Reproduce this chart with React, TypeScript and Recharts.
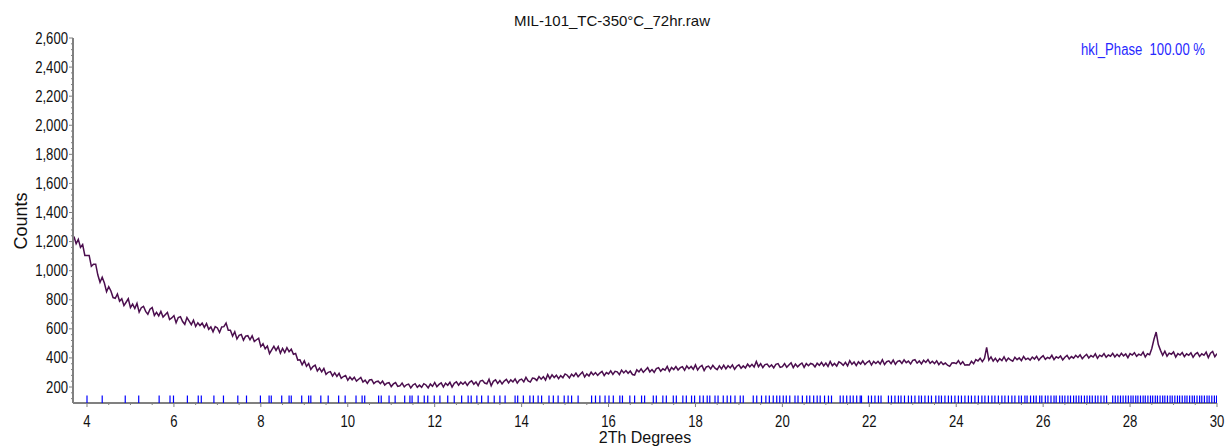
import { ComposedChart, Line, Scatter, XAxis, YAxis } from 'recharts';

// Scan settings: 2-theta start and step (degrees)
const START_ANGLE = 3.7;
const STEP = 0.05;

// Measured counts, one row per degree of 2-theta starting at 3.70
const counts = [
  1235, 1185, 1215, 1160, 1180, 1105, 1105, 1105, 1030, 1045, 1045, 970, 920, 955, 915, 855, 890, 860, 815, 810,
  840, 790, 807, 760, 783, 807, 746, 770, 740, 775, 715, 745, 755, 720, 700, 735, 746, 692, 713, 689,
  720, 681, 697, 713, 664, 675, 691, 642, 678, 684, 650, 631, 677, 653, 629, 660, 616, 642, 623, 639,
  610, 636, 597, 613, 579, 615, 606, 575, 613, 615, 640, 590, 590, 550, 580, 530, 555, 561, 522, 550,
  553, 525, 552, 513, 525, 535, 478, 498, 463, 482, 430, 455, 480, 452, 478, 433, 465, 437, 470, 443,
  460, 425, 430, 385, 387, 353, 380, 342, 361, 320, 340, 350, 310, 330, 304, 328, 287, 301, 306, 276,
  297, 273, 294, 260, 272, 279, 246, 268, 250, 267, 240, 253, 266, 234, 247, 225, 248, 251, 224, 237,
  240, 223, 241, 214, 227, 230, 203, 221, 230, 204, 208, 227, 201, 215, 220, 194, 214, 223, 198, 213,
  198, 223, 214, 194, 220, 205, 231, 202, 218, 229, 200, 226, 212, 233, 199, 225, 236, 212, 233, 219,
  235, 211, 232, 243, 219, 235, 210, 241, 246, 227, 222, 253, 208, 239, 249, 225, 245, 221, 241, 252,
  228, 249, 235, 256, 227, 248, 254, 235, 266, 242, 234, 261, 258, 245, 272, 254, 271, 248, 285, 257,
  284, 265, 281, 257, 278, 264, 290, 281, 262, 288, 274, 295, 271, 287, 303, 269, 290, 276, 302, 283,
  299, 280, 296, 307, 278, 299, 290, 311, 287, 308, 304, 285, 316, 297, 313, 294, 310, 286, 282, 318,
  304, 325, 301, 317, 333, 304, 320, 301, 327, 333, 309, 325, 316, 342, 308, 334, 320, 341, 317, 333,
  339, 315, 345, 326, 341, 322, 352, 317, 338, 348, 313, 338, 344, 324, 349, 329, 319, 345, 325, 350,
  325, 346, 331, 352, 322, 343, 353, 329, 345, 331, 357, 339, 356, 338, 375, 340, 360, 334, 354, 358,
  338, 352, 332, 356, 361, 335, 340, 361, 336, 352, 367, 333, 358, 339, 354, 365, 335, 361, 346, 362,
  357, 338, 363, 349, 369, 345, 365, 341, 376, 347, 362, 343, 373, 364, 349, 370, 345, 381, 356, 372,
  347, 373, 358, 379, 354, 370, 380, 351, 376, 362, 377, 358, 388, 354, 374, 380, 360, 385, 356, 376,
  381, 362, 387, 367, 378, 358, 383, 388, 364, 379, 359, 384, 369, 389, 363, 377, 361, 380, 354, 373,
  355, 365, 350, 342, 365, 367, 361, 381, 356, 374, 350, 353, 351, 377, 360, 388, 379, 398, 375, 397,
  472, 385, 407, 378, 398, 374, 395, 382, 408, 379, 399, 386, 377, 405, 388, 400, 381, 410, 389, 398,
  385, 406, 392, 411, 384, 402, 415, 390, 404, 396, 418, 388, 408, 399, 413, 386, 405, 417, 392, 409,
  398, 418, 403, 421, 395, 412, 425, 400, 416, 406, 428, 397, 419, 410, 430, 404, 420, 412, 432, 407,
  425, 409, 432, 414, 427, 402, 430, 420, 436, 411, 426, 418, 440, 406, 429, 422, 465, 528, 578, 492,
  452, 418, 446, 412, 433, 425, 441, 406, 430, 420, 437, 409, 428, 418, 435, 404, 426, 436, 410, 428,
  418, 440, 402, 433, 445, 408, 430,
];

// Reflection positions of the reference phase (degrees 2-theta)
const hklPositions = [
  4.0, 4.35, 4.88, 5.19, 5.66, 5.91, 5.99, 6.31, 6.56, 6.63, 6.92, 7.14, 7.47, 7.67, 7.99, 8.19, 8.24,
  8.48, 8.65, 8.7, 8.94, 9.1, 9.15, 9.38, 9.55, 9.79, 9.94, 10.19, 10.33, 10.39, 10.71, 10.77, 10.95,
  11.09, 11.31, 11.43, 11.48, 11.62, 11.76, 11.84, 11.99, 12.12, 12.3, 12.45, 12.62, 12.77, 12.84,
  12.97, 13.08, 13.23, 13.37, 13.5, 13.62, 13.85, 13.91, 14.04, 14.19, 14.27, 14.38, 14.46, 14.63,
  14.73, 14.84, 14.98, 15.07, 15.15, 15.3, 15.61, 15.7, 15.8, 15.92, 16.01, 16.11, 16.26, 16.32, 16.49,
  16.6, 16.76, 16.83, 17.03, 17.1, 17.25, 17.33, 17.49, 17.56, 17.71, 17.79, 17.91, 17.98, 18.1, 18.18,
  18.27, 18.33, 18.45, 18.52, 18.64, 18.73, 18.81, 18.91, 19.03, 19.1, 19.33, 19.41, 19.52, 19.62,
  19.7, 19.79, 19.87, 19.94, 20.02, 20.09, 20.17, 20.29, 20.36, 20.46, 20.56, 20.63, 20.72, 20.8,
  20.87, 20.97, 21.06, 21.13, 21.33, 21.4, 21.48, 21.56, 21.63, 21.71, 21.79, 21.82, 21.98, 22.05,
  22.13, 22.21, 22.27, 22.44, 22.51, 22.59, 22.67, 22.73, 22.81, 22.9, 22.97, 23.05, 23.14, 23.2,
  23.28, 23.36, 23.43, 23.53, 23.6, 23.66, 23.74, 23.82, 23.89, 23.97, 24.05, 24.12, 24.2, 24.28,
  24.35, 24.43, 24.51, 24.59, 24.66, 24.74, 24.82, 24.89, 24.97, 25.05, 25.12, 25.2, 25.28, 25.35,
  25.44, 25.5, 25.58, 25.63, 25.71, 25.78, 25.84, 25.92, 25.97, 26.05, 26.11, 26.18, 26.25, 26.3,
  26.38, 26.44, 26.5, 26.57, 26.63, 26.7, 26.76, 26.82, 26.88, 26.95, 27.01, 27.07, 27.13, 27.2,
  27.26, 27.33, 27.4, 27.46, 27.6, 27.66, 27.72, 27.78, 27.84, 27.9, 27.96, 28.02, 28.07, 28.13,
  28.18, 28.24, 28.3, 28.35, 28.41, 28.47, 28.52, 28.58, 28.63, 28.69, 28.75, 28.8, 28.86, 28.92,
  28.97, 29.03, 29.09, 29.14, 29.2, 29.26, 29.31, 29.37, 29.43, 29.48, 29.54, 29.6, 29.65, 29.71,
  29.77, 29.82, 29.88, 29.94, 29.99,
];

// Height at which the reflection markers sit, just above the x axis
const HKL_LEVEL = 114;

// Major tick labels; minor ticks fill in between
const xMajorTicks = [4, 6, 8, 10, 12, 14, 16, 18, 20, 22, 24, 26, 28, 30];
const yMajorTicks = [200, 400, 600, 800, 1000, 1200, 1400, 1600, 1800, 2000, 2200, 2400, 2600];

const xTicks: number[] = [];
for (let t = 4; t <= 30; t += 0.5) xTicks.push(t);
const yTicks: number[] = [];
for (let t = 120; t <= 2600; t += 40) yTicks.push(t);

const patternData = counts.map((c, i) => ({
  angle: Math.round((START_ANGLE + i * STEP) * 100) / 100,
  counts: c,
}));
const hklData = hklPositions.map((p) => ({ angle: p, counts: HKL_LEVEL }));

const AXIS_GREY = '#808080';
const SANS = "'Liberation Sans', Arial, sans-serif";
// labels are drawn in a condensed Arial look
const SQUEEZE = 0.82;

function YTick({ x, y, payload }: any) {
  const v = payload.value;
  const major = yMajorTicks.includes(v);
  return (
    <g>
      <line x1={x - (major ? 4 : 2)} x2={x} y1={y} y2={y} stroke={AXIS_GREY} strokeWidth={1} />
      {major && (
        <text
          transform={`translate(${x - 5}, ${y + 5.5}) scale(${SQUEEZE}, 1)`}
          textAnchor="end"
          fontSize={16}
          fontFamily={SANS}
          fill="#111"
        >
          {v.toLocaleString('en-US')}
        </text>
      )}
    </g>
  );
}

function XTick({ x, y, payload }: any) {
  const v = payload.value;
  const major = xMajorTicks.includes(v);
  return (
    <g>
      <line x1={x} x2={x} y1={y} y2={y + (major ? 4 : 2)} stroke={AXIS_GREY} strokeWidth={1} />
      {major && (
        <text
          transform={`translate(${x}, ${y + 24}) scale(${SQUEEZE}, 1)`}
          textAnchor="middle"
          fontSize={16}
          fontFamily={SANS}
          fill="#111"
        >
          {v}
        </text>
      )}
    </g>
  );
}

// Short vertical bar for each reflection
function HklMarker({ cx, cy }: any) {
  return <line x1={cx} x2={cx} y1={cy - 4} y2={cy + 3.5} stroke="#0000ff" strokeWidth={1.2} />;
}

export default function App() {
  return (
    <div style={{ position: 'absolute', left: 0, top: 0, width: 1226, height: 448, background: '#fff' }}>
      <ComposedChart
        width={1226}
        height={448}
        data={patternData}
        margin={{ top: 38, right: 9, bottom: 0, left: 0 }}
      >
        <XAxis
          type="number"
          dataKey="angle"
          domain={[3.678, 30]}
          allowDataOverflow
          ticks={xTicks}
          interval={0}
          height={45}
          tickSize={0}
          tickMargin={0}
          tickLine={false}
          tick={<XTick />}
          axisLine={{ stroke: AXIS_GREY, strokeWidth: 2 }}
        />
        <YAxis
          type="number"
          domain={[90, 2600]}
          allowDataOverflow
          ticks={yTicks}
          interval={0}
          width={73}
          tickSize={0}
          tickMargin={0}
          tickLine={false}
          tick={<YTick />}
          axisLine={{ stroke: AXIS_GREY, strokeWidth: 2 }}
        />
        <Line
          type="linear"
          dataKey="counts"
          stroke="#4b0e4e"
          strokeWidth={1.5}
          dot={false}
          activeDot={false}
          isAnimationActive={false}
        />
        <Scatter
          data={hklData}
          dataKey="counts"
          shape={<HklMarker />}
          isAnimationActive={false}
        />
      </ComposedChart>
      <svg
        width={1226}
        height={448}
        style={{ position: 'absolute', left: 0, top: 0, pointerEvents: 'none' }}
      >
        <text x={612} y={26} textAnchor="middle" fontSize={15} fontFamily={SANS} fill="#111">
          MIL-101_TC-350°C_72hr.raw
        </text>
        <text
          transform={`translate(1205, 55) scale(${SQUEEZE}, 1)`}
          textAnchor="end"
          fontSize={16}
          fontFamily={SANS}
          fill="#2828ff"
          xmlSpace="preserve"
        >
          hkl_Phase  100.00 %
        </text>
        <text x={645} y={443} textAnchor="middle" fontSize={16} fontFamily={SANS} fill="#111">
          2Th Degrees
        </text>
        <text
          x={27}
          y={221}
          textAnchor="middle"
          fontSize={18}
          fontFamily={SANS}
          fill="#111"
          transform="rotate(-90, 27, 221)"
        >
          Counts
        </text>
      </svg>
    </div>
  );
}
